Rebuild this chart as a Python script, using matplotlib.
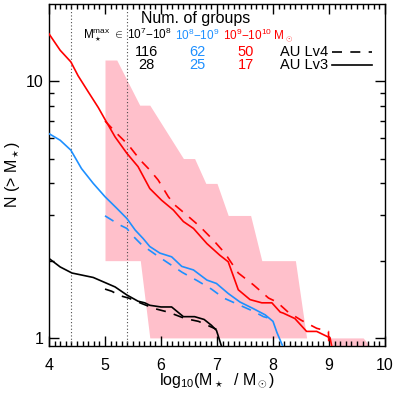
import matplotlib
matplotlib.use("Agg")
import matplotlib.pyplot as plt
from matplotlib.lines import Line2D
from matplotlib.ticker import FixedLocator, MultipleLocator, NullFormatter

plt.rcParams["font.family"] = ["Liberation Sans", "DejaVu Sans"]
plt.rcParams["mathtext.fontset"] = "custom"
plt.rcParams["mathtext.rm"] = "Liberation Sans"
plt.rcParams["mathtext.it"] = "Liberation Sans:italic"
plt.rcParams["mathtext.bf"] = "Liberation Sans:bold"

# AU Lv3 (solid) cumulative counts
lv3_hi_x = [4.0, 4.2, 4.39, 4.52, 4.7, 4.88, 5.0, 5.18, 5.39, 5.59, 5.8, 6.01, 6.22, 6.4,
            6.58, 6.82, 7.05, 7.2, 7.38, 7.59, 7.8, 7.98, 8.13, 8.18, 8.39, 8.6, 8.78, 9.02, 9.06]
lv3_hi_y = [15.3, 13.2, 11.9, 10.5, 9.1, 7.9, 7.1, 6.07, 5.24, 4.65, 3.82, 3.44, 3.15, 2.84,
            2.67, 2.33, 2.10, 1.98, 1.54, 1.41, 1.37, 1.37, 1.26, 1.25, 1.19, 1.06, 1.06, 1.0, 0.9]
lv3_mid_x = [4.0, 4.2, 4.39, 4.58, 4.79, 5.0, 5.21, 5.39, 5.54, 5.68, 5.8, 5.98, 6.19, 6.37,
             6.58, 6.82, 6.99, 7.2, 7.41, 7.65, 7.86, 8.0, 8.07, 8.2]
lv3_mid_y = [6.25, 5.89, 5.39, 4.57, 4.0, 3.55, 3.2, 2.92, 2.63, 2.44, 2.27, 2.14, 2.07, 1.9,
             1.84, 1.68, 1.63, 1.49, 1.38, 1.30, 1.23, 1.16, 1.05, 0.9]
lv3_lo_x = [4.0, 4.2, 4.41, 4.79, 5.18, 5.39, 5.59, 5.71, 5.8, 6.0, 6.19, 6.4, 6.6, 6.77,
            6.9, 6.99, 7.1]
lv3_lo_y = [2.04, 1.89, 1.79, 1.72, 1.58, 1.47, 1.39, 1.37, 1.34, 1.32, 1.32, 1.21, 1.21, 1.18,
            1.12, 1.07, 0.9]

# AU Lv4 (dashed) cumulative counts
lv4_hi_x = [5.0, 5.24, 5.42, 5.63, 5.8, 5.95, 6.13, 6.25, 6.46, 6.7, 6.93, 7.14, 7.38, 7.65,
            7.92, 8.07, 8.27, 8.51, 8.78, 8.99, 9.0]
lv4_hi_y = [7.0, 6.17, 5.64, 4.93, 4.51, 4.12, 3.55, 3.29, 3.01, 2.71, 2.41, 2.14, 1.79, 1.61,
            1.43, 1.38, 1.26, 1.17, 1.09, 1.06, 0.9]
lv4_mid_x = [5.0, 5.12, 5.27, 5.39, 5.48, 5.66, 5.92, 6.14, 6.38, 6.65, 6.9, 7.12, 7.41, 7.65,
             7.83, 7.95]
lv4_mid_y = [2.99, 2.88, 2.75, 2.67, 2.52, 2.30, 2.10, 1.95, 1.80, 1.67, 1.55, 1.43, 1.34, 1.27,
             1.21, 1.19]
lv4_lo_x = [5.0, 5.12, 5.27, 5.42, 5.66, 5.89, 6.13, 6.43, 6.67, 6.91, 6.99]
lv4_lo_y = [1.55, 1.52, 1.46, 1.43, 1.36, 1.30, 1.26, 1.19, 1.16, 1.10, 1.08]

# observed range (pink band)
band_x = [5.0, 5.21, 5.62, 5.63, 5.80, 6.40, 6.60, 6.80, 7.00, 7.20, 7.60, 7.80, 8.40, 8.60,
          9.03, 9.05, 9.61, 9.78]
band_hi = [12.1, 12.1, 8.07, 8.07, 8.07, 5.0, 5.0, 4.0, 4.0, 3.0, 3.0, 2.0, 2.0, 1.0,
           1.0, 1.0, 1.0, 0.9]
band_lo = [2.0, 2.0, 2.0, 2.0, 1.0, 1.0, 1.0, 1.0, 1.0, 1.0, 1.0, 1.0, 1.0, 1.0,
           1.0, 0.5, 0.5, 0.5]

counts_lv4 = ["116", "62", "50"]
counts_lv3 = ["28", "25", "17"]

RED = "#ff0000"
BLUE = "#1e90ff"
PINK = "#ffc0cb"

fig = plt.figure(figsize=(3.93, 3.93), dpi=100)
ax = fig.add_axes([49 / 393, 47 / 393, 336 / 393, 342 / 393])

ax.fill_between(band_x, band_lo, band_hi, color=PINK, lw=0, zorder=1)

for xv in [4.4, 5.4]:
    ax.axvline(xv, color="0.3", ls=(0, (1, 2)), lw=0.8, zorder=2)

dash = (0, (6, 5))
lw = 1.2
ax.plot(lv3_hi_x, lv3_hi_y, color=RED, lw=lw, zorder=3)
ax.plot(lv3_mid_x, lv3_mid_y, color=BLUE, lw=lw, zorder=3)
ax.plot(lv3_lo_x, lv3_lo_y, color="black", lw=lw, zorder=3)
ax.plot(lv4_hi_x, lv4_hi_y, color=RED, lw=lw, ls=dash, zorder=3)
ax.plot(lv4_mid_x, lv4_mid_y, color=BLUE, lw=lw, ls=dash, zorder=3)
ax.plot(lv4_lo_x, lv4_lo_y, color="black", lw=lw, ls=dash, zorder=3)

ax.set_yscale("log")
ax.set_xlim(4, 10)
ax.set_ylim(0.93, 20)

ax.xaxis.set_major_locator(MultipleLocator(1))
ax.xaxis.set_minor_locator(MultipleLocator(0.1))
ax.yaxis.set_major_locator(FixedLocator([1, 10]))
ax.yaxis.set_minor_locator(FixedLocator([2, 3, 4, 5, 6, 7, 8, 9]))
ax.yaxis.set_minor_formatter(NullFormatter())
ax.set_yticklabels(["1", "10"])

ax.tick_params(which="both", direction="in", top=True, right=True, width=1.0,
               labelsize=11.5, colors="black")
ax.tick_params(which="major", length=7)
ax.tick_params(which="minor", length=3.5)
ax.tick_params(axis="x", pad=8.5)
ax.tick_params(axis="y", pad=4)
for s in ax.spines.values():
    s.set_linewidth(1.0)

ax.set_xlabel(r"log$_{10}$(M$_\star$  / M$_\odot$)", fontsize=11.5, labelpad=-1)
ax.set_ylabel(r"N (> M$_\star$)", fontsize=11.5, labelpad=3)


def px(x, y):
    return x / 393, 1 - y / 393


fig.text(*px(196, 18), "Num. of groups", fontsize=11.5, ha="center", va="center")
fig.text(*px(83, 35), "M$_\\star^{\\rm max}$ $\\in$ 10$^7$\u221210$^8$", fontsize=8.5,
         ha="left", va="center", color="black")
fig.text(*px(175, 35), "10$^8$\u221210$^9$", fontsize=8.5, ha="left", va="center", color=BLUE)
fig.text(*px(223, 35), "10$^9$\u221210$^{10}$ M$_\\odot$", fontsize=8.5, ha="left",
         va="center", color=RED)

for row, (y, vals) in enumerate([(52, counts_lv4), (65, counts_lv3)]):
    for xc, v, c in zip([146, 197, 246], vals, ["black", BLUE, RED]):
        fig.text(*px(xc, y), v, fontsize=10.5, ha="center", va="center", color=c)

fig.text(*px(280, 52), "AU Lv4", fontsize=10.5, ha="left", va="center")
fig.text(*px(280, 65), "AU Lv3", fontsize=10.5, ha="left", va="center")
fig.add_artist(Line2D([332 / 393, 372 / 393], [1 - 52 / 393] * 2, color="black", lw=lw, ls=dash))
fig.add_artist(Line2D([332 / 393, 372 / 393], [1 - 65 / 393] * 2, color="black", lw=lw))

fig.savefig("out.png", dpi=100)
